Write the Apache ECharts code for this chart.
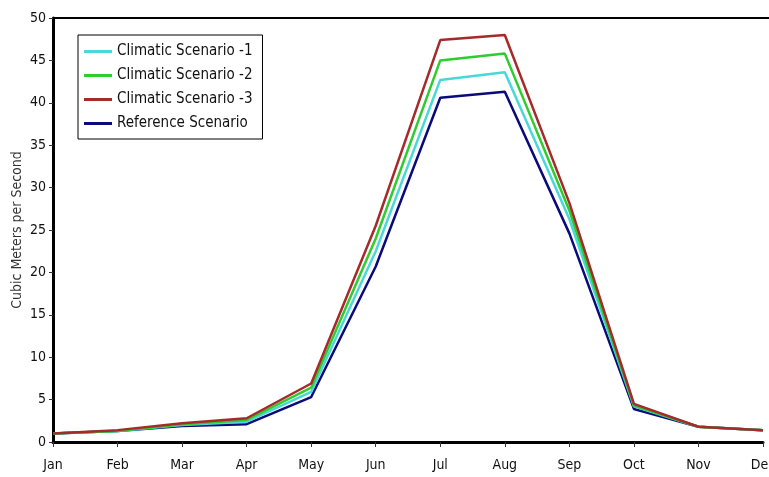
<!DOCTYPE html>
<html><head><meta charset="utf-8">
<script src="https://cdn.jsdelivr.net/npm/echarts@6/dist/echarts.min.js"></script>
<style>html,body{margin:0;padding:0;background:#fff}#c{width:769px;height:477px}</style>
</head><body><div id="c"></div>
<script>
const months = ['Jan','Feb','Mar','Apr','May','Jun','Jul','Aug','Sep','Oct','Nov','Dec'];
const yTicks = [0,5,10,15,20,25,30,35,40,45,50];
const names = ['Climatic Scenario -1','Climatic Scenario -2','Climatic Scenario -3','Reference Scenario'];
const colors = ['#48d8d8','#2ecc2e','#a52a2a','#0a0a7a'];
const scen1 = [1.0,1.3,2.0,2.4,5.9,22.5,42.7,43.6,26.3,4.2,1.8,1.4];
const scen2 = [1.0,1.3,2.1,2.6,6.4,24.0,45.0,45.8,27.3,4.3,1.8,1.4];
const scen3 = [1.0,1.4,2.2,2.8,6.9,25.5,47.4,48.0,28.2,4.5,1.8,1.4];
const refer = [1.0,1.3,1.9,2.1,5.3,20.7,40.6,41.3,24.6,3.9,1.8,1.4];
const seriesData = [scen1, scen2, scen3, refer];
const font = '"DejaVu Sans Condensed","Liberation Sans Narrow","Liberation Sans",sans-serif';
const chart = echarts.init(document.getElementById('c'));
const order = [3,0,1,2];
chart.setOption({
  animation:false,
  grid:{left:53,right:6,top:18,bottom:35,containLabel:false,outerBoundsMode:'none'},
  legend:{
    orient:'vertical', left:78, top:35,
    data:names,
    itemWidth:28, itemHeight:3, itemGap:9,
    borderColor:'#000', borderWidth:1, padding:[9,10,8,6],
    icon:'rect',
    textStyle:{fontFamily:font,fontSize:15,color:'#111'}
  },
  xAxis:{
    type:'category', data:months, boundaryGap:false,
    axisLine:{lineStyle:{color:'#000',width:3}},
    axisTick:{show:true,length:5,lineStyle:{color:'#333',width:1}},
    axisLabel:{fontFamily:font,fontSize:14,color:'#111',margin:16},
    splitLine:{show:false}
  },
  yAxis:{
    type:'value', min:0, max:50, interval:5,
    name:'Cubic Meters per Second', nameLocation:'middle', nameGap:29, nameMoveOverlap:false,
    nameTextStyle:{fontFamily:font,fontSize:14,color:'#333'},
    axisLine:{show:true,lineStyle:{color:'#000',width:3}},
    axisTick:{show:true,length:4,lineStyle:{color:'#333',width:1}},
    axisLabel:{fontFamily:font,fontSize:14,color:'#111',margin:7,
      formatter:v=>yTicks.includes(v)?String(v):''},
    splitLine:{show:false}
  },
  graphic:[{type:'line',shape:{x1:53,y1:18,x2:769,y2:18},style:{stroke:'#000',lineWidth:2}}],
  series: order.map(i=>({
    name:names[i], type:'line', data:seriesData[i],
    symbol:'none', lineStyle:{width:2.5,color:colors[i]}, itemStyle:{color:colors[i]}
  }))
});
</script></body></html>
